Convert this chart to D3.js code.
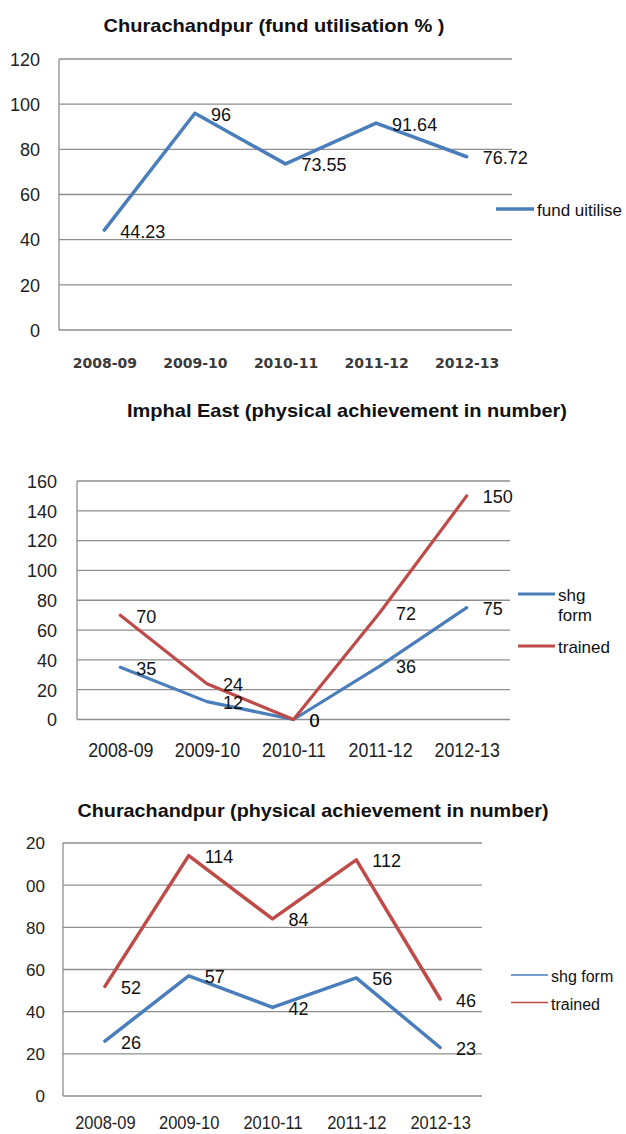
<!DOCTYPE html>
<html><head><meta charset="utf-8">
<script src="https://cdn.jsdelivr.net/npm/d3@7"></script>
<style>
html,body{margin:0;padding:0;background:#fff;}
svg{display:block;}
</style></head>
<body>
<svg id="c" width="626" height="1134"></svg>
<script>
const years = ["2008-09","2009-10","2010-11","2011-12","2012-13"];
const fundUtilised = [44.23, 96, 73.55, 91.64, 76.72];
const imphalShgForm = [35, 12, 0, 36, 75];
const imphalTrained = [70, 24, 0, 72, 150];
const churaShgForm = [26, 57, 42, 56, 23];
const churaTrained = [52, 114, 84, 112, 46];
const ticksPct = [0, 20, 40, 60, 80, 100, 120];
const ticksImphal = [0, 20, 40, 60, 80, 100, 120, 140, 160];
const ticksChura = [0, 20, 40, 60, 80, 100, 120];

const BLUE = "#4A7EBB", RED = "#BE4B48", GRID = "#8E8E8E";
const SANS = '"Liberation Sans", Arial, sans-serif';
const svg = d3.select("#c").style("font-family", SANS);
const defs = svg.append("defs");
defs.append("clipPath").attr("id","cropL").append("rect")
  .attr("x",26).attr("y",0).attr("width",600).attr("height",1134);

function fitText(sel, target) {
  sel.each(function(){
    this.setAttribute("textLength", target);
    this.setAttribute("lengthAdjust", "spacingAndGlyphs");
  });
}
function condense(sel, f) {
  sel.each(function(){
    const l = this.getComputedTextLength();
    this.setAttribute("textLength", l * f);
    this.setAttribute("lengthAdjust", "spacingAndGlyphs");
  });
}

function drawChart(cfg) {
  const g = svg.append("g");
  const x = d3.scalePoint().domain(years).range([cfg.left, cfg.right]).padding(0.5);
  const y = d3.scaleLinear().domain([0, d3.max(cfg.ticks)]).range([cfg.bottom, cfg.top]);

  // title
  const t = g.append("text").attr("x", cfg.titleX).attr("y", cfg.titleY)
    .attr("text-anchor","middle").attr("dominant-baseline","central")
    .style("font-family", SANS).style("font-size", "19px").style("font-weight","bold")
    .attr("fill","#111").text(cfg.title);
  fitText(t, cfg.titleW);

  // gridlines
  g.append("g").selectAll("line").data(cfg.ticks).join("line")
    .attr("x1", cfg.left).attr("x2", cfg.right)
    .attr("y1", d => y(d)).attr("y2", d => y(d))
    .attr("stroke", GRID).attr("stroke-width", 1.3);
  g.append("line").attr("x1", cfg.left).attr("x2", cfg.left)
    .attr("y1", y(d3.max(cfg.ticks))).attr("y2", y(0))
    .attr("stroke", GRID).attr("stroke-width", 1.3);

  // y tick labels via axis
  const holder = cfg.crop ? g.append("g").attr("clip-path","url(#cropL)") : g;
  const ya = holder.append("g").attr("transform", `translate(${cfg.tickRight},0)`)
    .call(d3.axisLeft(y).tickValues(cfg.ticks).tickSize(0).tickPadding(0).tickFormat(d3.format("d")));
  ya.select(".domain").remove();
  ya.selectAll("text").style("font-family", SANS).style("font-size", cfg.tickFont + "px")
    .attr("fill","#222").attr("dy","0.35em");

  // x labels via axis
  const xa = g.append("g").attr("transform", `translate(0,${cfg.xLabelY})`)
    .call(d3.axisBottom(x).tickSize(0).tickPadding(0));
  xa.select(".domain").remove();
  const xt = xa.selectAll("text").attr("dy","0.35em").attr("y",0);
  if (cfg.xBold) {
    xt.style("font-family",'"DejaVu Sans", sans-serif').style("font-weight","bold")
      .style("font-size","14px").attr("fill","#3a3a3a");
  } else {
    xt.style("font-family", SANS).style("font-size", cfg.xFont + "px").attr("fill","#222");
    condense(xt, 0.89);
  }

  // series
  const line = d3.line().x((d,i) => x(years[i])).y(d => y(d));
  cfg.series.forEach(s => {
    g.append("path").datum(s.values).attr("d", line)
      .attr("fill","none").attr("stroke", s.color).attr("stroke-width", cfg.lineW)
      .attr("stroke-linejoin","round").attr("stroke-linecap","round");
  });
  cfg.series.forEach(s => {
    g.append("g").selectAll("text").data(s.values).join("text")
      .attr("x",(d,i) => x(years[i]) + 16).attr("y", d => y(d) + 1.5)
      .attr("dominant-baseline","central").style("font-size", cfg.labelFont + "px")
      .attr("fill","#111").text(d => d);
  });

  // legend
  cfg.legend.forEach(L => {
    g.append("line").attr("x1", L.x1).attr("x2", L.x2).attr("y1", L.y).attr("y2", L.y)
      .attr("stroke", L.color).attr("stroke-width", L.w);
    const tx = g.append("text").attr("x", L.x2 + 3).attr("y", L.y + 1)
      .attr("dominant-baseline","central").style("font-size", L.font + "px").attr("fill","#111");
    L.lines.forEach((s, i) => {
      tx.append("tspan").attr("x", L.x2 + 3).attr("dy", i === 0 ? 0 : L.lh).text(s);
    });
  });
}

drawChart({
  title: "Churachandpur (fund utilisation % )", titleX: 274, titleY: 25, titleW: 341,
  left: 59, right: 512, top: 59, bottom: 330, ticks: ticksPct, tickRight: 40, tickFont: 18,
  xLabelY: 363, xBold: true, lineW: 3.5, labelFont: 18,
  series: [{values: fundUtilised, color: BLUE}],
  legend: [{x1: 496, x2: 534, y: 209, color: BLUE, w: 3.5, font: 17, lines: ["fund uitilise"], lh: 20}]
});

drawChart({
  title: "Imphal East (physical achievement in number)", titleX: 347, titleY: 410, titleW: 440,
  left: 77, right: 510, top: 481, bottom: 719.5, ticks: ticksImphal, tickRight: 57, tickFont: 18,
  xLabelY: 750, xBold: false, xFont: 20, lineW: 3.2, labelFont: 18,
  series: [{values: imphalShgForm, color: BLUE}, {values: imphalTrained, color: RED}],
  legend: [
    {x1: 518, x2: 555, y: 594, color: BLUE, w: 3, font: 17, lines: ["shg","form"], lh: 20},
    {x1: 518, x2: 555, y: 646, color: RED, w: 3, font: 17, lines: ["trained"], lh: 20}
  ]
});

drawChart({
  title: "Churachandpur (physical achievement in number)", titleX: 313, titleY: 810, titleW: 471,
  left: 63, right: 482, top: 843, bottom: 1096, ticks: ticksChura, tickRight: 45, tickFont: 17,
  xLabelY: 1122.5, xBold: false, xFont: 18.5, lineW: 3.5, labelFont: 18, crop: true,
  series: [{values: churaShgForm, color: BLUE}, {values: churaTrained, color: RED}],
  legend: [
    {x1: 511, x2: 548, y: 975, color: BLUE, w: 1.6, font: 16, lines: ["shg form"], lh: 20},
    {x1: 511, x2: 548, y: 1002.5, color: RED, w: 1.6, font: 16, lines: ["trained"], lh: 20}
  ]
});
</script>
</body></html>
